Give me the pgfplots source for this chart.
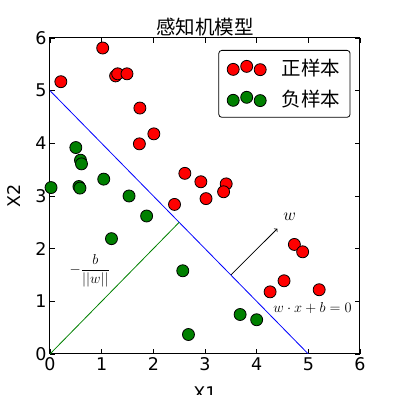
\documentclass[border=0pt]{standalone}
\usepackage{fontspec}
\setmainfont{DejaVu Sans}
\newfontfamily\cjk{Noto Sans CJK SC}
\usepackage{pgfplots}
\pgfplotsset{compat=1.18}
\begin{document}
\begin{tikzpicture}
\begin{axis}[
  at={(0,0)}, anchor=south west,
  scale only axis, width=310pt, height=316pt,
  xmin=0, xmax=6, ymin=0, ymax=6,
  xtick={0,1,2,3,4,5,6}, ytick={0,1,2,3,4,5,6},
  tick align=inside, tick pos=both,
  major tick length=5pt,
  tick style={black, line width=0.8pt},
  axis line style={line width=1pt},
  /pgf/number format/assume math mode=true,
  tick label style={font=\fontsize{17.5}{20}\selectfont},
  xlabel={X1}, ylabel={X2},
  label style={font=\fontsize{17.5}{20}\selectfont},
  xlabel style={at={(axis description cs:0.5,0)}, anchor=north, yshift=-29pt},
  ylabel style={at={(axis description cs:0,0.5)}, anchor=south, yshift=26pt},
  legend style={at={(rel axis cs:1,1)}, xshift=-9.5pt, yshift=-12pt, anchor=north east,
    draw=black, rounded corners=3pt, line width=0.8pt,
    font=\cjk\fontsize{19.5}{22}\selectfont, row sep=9pt, inner xsep=8pt, inner ysep=7pt},
  legend cell align=left,
  clip mode=global,
]
\addplot[blue, line width=0.8pt, forget plot] coordinates {(0,5) (5,0)};
\addplot[green!50!black, line width=0.8pt, forget plot] coordinates {(0,0) (2.5,2.5)};
\addplot[only marks, mark=*, mark size=6pt, mark options={fill=red, draw=black, line width=0.8pt}, forget plot] coordinates {
(0.86,6.02) (1.02,5.81) (0.21,5.17) (1.27,5.28) (1.31,5.32) (1.49,5.32)
(1.74,4.67) (2.01,4.18) (1.73,3.99) (2.61,3.43) (2.92,3.27) (3.41,3.23)
(3.36,3.08) (3.02,2.95) (2.41,2.84) (4.73,2.08) (4.89,1.94) (4.26,1.18)
(4.53,1.39) (5.21,1.22)
};
\addplot[only marks, mark=*, mark size=6pt, mark options={fill=green!50!black, draw=black, line width=0.8pt}, forget plot] coordinates {
(0.50,3.92) (0.59,3.68) (0.61,3.61) (0.02,3.16) (0.56,3.18) (0.58,3.15)
(1.04,3.32) (1.53,3.00) (1.87,2.62) (1.19,2.19) (2.57,1.58) (3.68,0.75)
(4.00,0.65) (2.68,0.37)
};
\addlegendimage{legend image code/.code={
  \draw[fill=red, draw=black, line width=0.8pt] (0pt,-1pt) circle (6pt);
  \draw[fill=red, draw=black, line width=0.8pt] (13.5pt,2pt) circle (6pt);
  \draw[fill=red, draw=black, line width=0.8pt] (27pt,-1.3pt) circle (6pt);}}
\addlegendentry{\hspace{13pt}正样本}
\addlegendimage{legend image code/.code={
  \draw[fill=green!50!black, draw=black, line width=0.8pt] (0pt,-1pt) circle (6pt);
  \draw[fill=green!50!black, draw=black, line width=0.8pt] (13.5pt,2pt) circle (6pt);
  \draw[fill=green!50!black, draw=black, line width=0.8pt] (27pt,-1.3pt) circle (6pt);}}
\addlegendentry{\hspace{13pt}负样本}
\draw[->, line width=0.8pt] (axis cs:3.5,1.5) -- (axis cs:4.4,2.38);
\node[font=\fontsize{17}{19}\selectfont] at (axis cs:4.64,2.6) {$w$};
\node[font=\fontsize{15}{17}\selectfont] at (axis cs:0.77,1.58) {$\displaystyle-\frac{b}{||w||}$};
\node[font=\fontsize{15}{17}\selectfont] at (axis cs:5.08,0.88) {$w\cdot x+b=0$};
\end{axis}
\node[font=\cjk\fontsize{19.5}{22}\selectfont, anchor=base] at (155pt,319.5pt) {感知机模型};
\pgfresetboundingbox
\useasboundingbox (-50pt,-41pt) rectangle (350pt,354pt);
\end{tikzpicture}
\end{document}
